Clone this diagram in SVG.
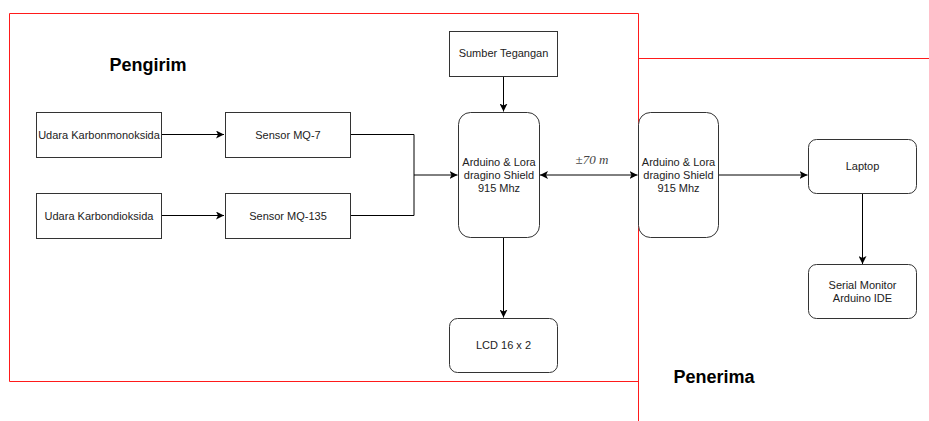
<svg xmlns="http://www.w3.org/2000/svg" width="929" height="421" viewBox="0 0 929 421">
<style>
.box{fill:#fff;stroke:#333;stroke-width:1}
.t{font-family:"Liberation Sans",Arial,sans-serif;font-size:11px;fill:#222;text-anchor:middle}
.h{font-family:"Liberation Sans",Arial,sans-serif;font-size:18px;font-weight:bold;fill:#000;text-anchor:middle}
.c{fill:none;stroke:#000;stroke-width:1}
.red{fill:none;stroke:#ff1a1a;stroke-width:1}
</style>
<defs>
<marker id="ah" viewBox="0 0 10 10" refX="10" refY="5" markerWidth="8" markerHeight="8" markerUnits="userSpaceOnUse" orient="auto-start-reverse">
<path d="M0,0 L10,5 L0,10 L2.5,5 Z" fill="#000"/>
</marker>
</defs>
<rect width="929" height="421" fill="#fff"/>
<g id="frames">
<path class="red" d="M638.5,381.5 L9.5,381.5 L9.5,13.5 L638.5,13.5 L638.5,421"/>
<path class="red" d="M638.5,58.5 L929,58.5"/>
</g>
<g id="labels">
<text class="h" x="148" y="71">Pengirim</text>
<text class="h" x="714" y="383">Penerima</text>
</g>
<g id="connectors">
<path class="c" d="M162,134.5 L224,134.5" marker-end="url(#ah)"/>
<path class="c" d="M162,215.5 L224,215.5" marker-end="url(#ah)"/>
<path class="c" d="M351,134.5 L414,134.5 L414,215.5 L351,215.5"/>
<path class="c" d="M414,175 L457.5,175" marker-end="url(#ah)"/>
<path class="c" d="M503.5,76 L503.5,111.5" marker-end="url(#ah)"/>
<path class="c" d="M503.5,238 L503.5,317.5" marker-end="url(#ah)"/>
<path class="c" d="M540,175 L637.5,175" marker-start="url(#ah)" marker-end="url(#ah)"/>
<path class="c" d="M719,175 L807.5,175" marker-end="url(#ah)"/>
<path class="c" d="M862.5,193 L862.5,264" marker-end="url(#ah)"/>
<text x="592" y="164" font-family="'Liberation Serif','Times New Roman',serif" font-size="13" font-style="italic" text-anchor="middle" fill="#444">±70 m</text>
</g>
<g id="udara-co">
<rect class="box" x="36.5" y="112.5" width="125" height="45"/>
<text class="t" x="99" y="138.5">Udara Karbonmonoksida</text>
</g>
<g id="sensor-mq7">
<rect class="box" x="225.5" y="112.5" width="125" height="45"/>
<text class="t" x="288" y="138.5">Sensor MQ-7</text>
</g>
<g id="udara-co2">
<rect class="box" x="36.5" y="193.5" width="125" height="45"/>
<text class="t" x="99" y="219.5">Udara Karbondioksida</text>
</g>
<g id="sensor-mq135">
<rect class="box" x="225.5" y="193.5" width="125" height="45"/>
<text class="t" x="288" y="219.5">Sensor MQ-135</text>
</g>
<g id="sumber-tegangan">
<rect class="box" x="449.5" y="31.5" width="108" height="45"/>
<text class="t" x="503.5" y="57">Sumber Tegangan</text>
</g>
<g id="arduino-tx">
<rect class="box" x="458.5" y="112.5" width="81" height="125" rx="12"/>
<text class="t" x="499" y="166">Arduino &amp; Lora</text>
<text class="t" x="499" y="179">dragino Shield</text>
<text class="t" x="499" y="192">915 Mhz</text>
</g>
<g id="lcd">
<rect class="box" x="449.5" y="318.5" width="108" height="54" rx="8"/>
<text class="t" x="503.5" y="349">LCD 16 x 2</text>
</g>
<g id="arduino-rx">
<rect class="box" x="638.5" y="112.5" width="80" height="125" rx="12"/>
<text class="t" x="678.5" y="166">Arduino &amp; Lora</text>
<text class="t" x="678.5" y="179">dragino Shield</text>
<text class="t" x="678.5" y="192">915 Mhz</text>
</g>
<g id="laptop">
<rect class="box" x="808.5" y="139.5" width="108" height="54" rx="8"/>
<text class="t" x="862.5" y="170">Laptop</text>
</g>
<g id="serial-monitor">
<rect class="box" x="808.5" y="264.5" width="108" height="54" rx="8"/>
<text class="t" x="862.5" y="288.5">Serial Monitor</text>
<text class="t" x="862.5" y="302">Arduino IDE</text>
</g>
</svg>
